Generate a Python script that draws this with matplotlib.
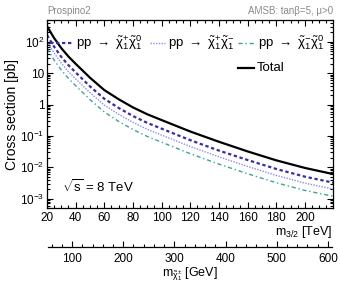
import numpy as np
import matplotlib
matplotlib.use('Agg')
import matplotlib.pyplot as plt
from matplotlib.lines import Line2D
from matplotlib.ticker import MultipleLocator, FixedLocator, FixedFormatter, LogLocator, NullFormatter

plt.rcParams['font.family'] = ['Liberation Sans', 'DejaVu Sans']
plt.rcParams['mathtext.fontset'] = 'custom'
plt.rcParams['mathtext.rm'] = 'Liberation Sans'
plt.rcParams['mathtext.it'] = 'Liberation Sans:italic'
plt.rcParams['mathtext.bf'] = 'Liberation Sans:bold'

# gravitino mass [TeV]
m32 = [20, 25, 30, 35, 40, 50, 60, 70, 80, 90, 100, 120, 140, 160, 180, 200, 220]

# cross sections [pb]
xs_total = [316, 132, 63, 34, 20, 7.2, 2.9, 1.48, 0.81, 0.49, 0.32, 0.138,
            0.065, 0.032, 0.0166, 0.0095, 0.006]
xs_c1pn1 = [165, 70, 33, 18, 10.6, 3.8, 1.53, 0.78, 0.43, 0.26, 0.17, 0.073,
            0.034, 0.017, 0.0088, 0.005, 0.0032]
xs_c1pc1m = [105, 44, 21, 11.2, 6.6, 2.4, 0.96, 0.49, 0.27, 0.162, 0.106, 0.046,
             0.0215, 0.0106, 0.0055, 0.0031, 0.002]
xs_c1mn1 = [63, 26, 12.6, 6.8, 4.0, 1.44, 0.58, 0.29, 0.16, 0.096, 0.063, 0.027,
            0.0126, 0.0062, 0.0032, 0.00182, 0.00118]

ytick_vals = [1e-3, 1e-2, 1e-1, 1, 10, 100]
ytick_labels = ['$10^{-3}$', '$10^{-2}$', '$10^{-1}$', '1', '10', '$10^{2}$']

leg_labels = [r'pp $\rightarrow$ $\tilde{\mathrm{\chi}}^{+}_{1}\tilde{\mathrm{\chi}}^{0}_{1}$',
              r'pp $\rightarrow$ $\tilde{\mathrm{\chi}}^{+}_{1}\tilde{\mathrm{\chi}}^{-}_{1}$',
              r'pp $\rightarrow$ $\tilde{\mathrm{\chi}}^{-}_{1}\tilde{\mathrm{\chi}}^{0}_{1}$']

W, H = 340, 284
fig = plt.figure(figsize=(W / 100, H / 100), dpi=100)
ax = fig.add_axes([47 / W, 1 - 208 / H, 286 / W, 188 / H])


def fx(px):
    return px / W


def fy(py):
    return 1 - py / H


sty1 = dict(color='#3a2fa0', lw=1.6, ls=(0, (1.5, 1.2)))
sty2 = dict(color='#8c8cf0', lw=1.0, ls=(0, (1, 1)))
sty3 = dict(color='#3aa596', lw=1.0, ls=(0, (3, 2, 1, 2)))
sty0 = dict(color='black', lw=1.6, ls='-')

ax.plot(m32, xs_c1pn1, **sty1)
ax.plot(m32, xs_c1pc1m, **sty2)
ax.plot(m32, xs_c1mn1, **sty3)
ax.plot(m32, xs_total, **sty0)

ax.set_yscale('log')
ax.set_xlim(20, 219.6)
ax.set_ylim(5e-4, 5e2)

ax.xaxis.set_major_locator(MultipleLocator(20))
ax.xaxis.set_minor_locator(MultipleLocator(5))
ax.yaxis.set_major_locator(FixedLocator(ytick_vals))
ax.yaxis.set_major_formatter(FixedFormatter(ytick_labels))
ax.yaxis.set_minor_locator(LogLocator(base=10, subs=np.arange(2, 10)))
ax.yaxis.set_minor_formatter(NullFormatter())
ax.tick_params(which='both', direction='in', top=True, right=True, labelsize=8.5)
ax.tick_params(axis='x', pad=3)
ax.tick_params(axis='y', pad=2)
ax.tick_params(which='major', length=4.5, width=0.8)
ax.tick_params(which='minor', length=2.5, width=0.8)
for s in ax.spines.values():
    s.set_linewidth(0.9)

ax.set_ylabel('Cross section [pb]', fontsize=10, labelpad=1)
fig.text(fx(333), fy(232), r'm$_{3/2}$ [TeV]', ha='right', va='center', fontsize=9)

# legend drawn by hand, ROOT style
rows = [(50, 73, 76, 43, sty1, leg_labels[0]),
        (150, 165, 168, 43, sty2, leg_labels[1]),
        (238, 254, 258, 43, sty3, leg_labels[2]),
        (238, 254, 257, 68, sty0, 'Total')]
for x0, x1, xt, yy, sty, lab in rows:
    fig.add_artist(Line2D([fx(x0), fx(x1)], [fy(yy), fy(yy)], transform=fig.transFigure, **sty))
    fig.text(fx(xt), fy(yy), lab, ha='left', va='center', fontsize=9.5)

fig.text(fx(62), fy(187), r'$\sqrt{\mathrm{s}}$ = 8 TeV', ha='left', va='center', fontsize=9.5)

fig.text(fx(47), fy(11), 'Prospino2', color='#8a8a8a', fontsize=7, ha='left', va='center')
fig.text(fx(333), fy(11), 'AMSB: tanβ=5, μ>0', color='#8a8a8a', fontsize=7, ha='right', va='center')

# chargino mass axis
ax2 = fig.add_axes([48 / W, 1 - 247 / H, 284 / W, 0.0001])
ax2.set_xlim(53, 608)
for k in ['top', 'left', 'right']:
    ax2.spines[k].set_visible(False)
ax2.spines['bottom'].set_linewidth(0.9)
ax2.set_yticks([])
ax2.xaxis.set_major_locator(MultipleLocator(100))
ax2.xaxis.set_minor_locator(MultipleLocator(20))
ax2.tick_params(which='both', direction='in', labelsize=8.5, pad=4)
ax2.tick_params(which='major', length=4.5, width=0.8)
ax2.tick_params(which='minor', length=2.5, width=0.8)
ax2.set_xlabel(r'm$_{\tilde{\mathrm{\chi}}^{\pm}_{1}}$ [GeV]', fontsize=9, labelpad=1)

fig.savefig('out.png', dpi=100)
